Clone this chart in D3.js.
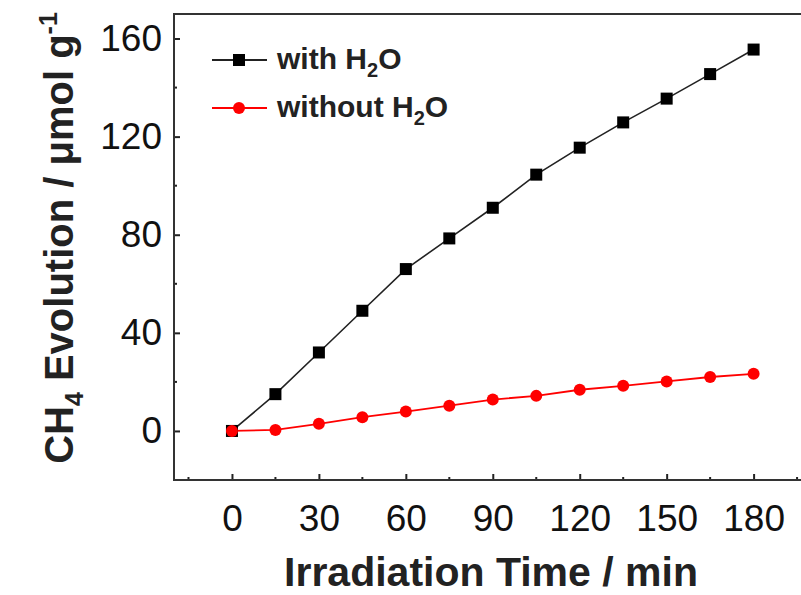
<!DOCTYPE html>
<html><head><meta charset="utf-8">
<script src="https://cdn.jsdelivr.net/npm/d3@7"></script>
<style>body{margin:0;background:#fff}svg{display:block}</style>
</head><body>
<svg id="c" width="801" height="595"></svg>
<script>
const times = [0,15,30,45,60,75,90,105,120,135,150,165,180];
const withH2O = [0,15,32,49,66,78.5,91,104.5,115.5,125.8,135.5,145.5,155.5];
const withoutH2O = [0,0.4,2.9,5.6,7.9,10.3,12.8,14.3,16.8,18.4,20.2,22,23.3];
const xTicks = [0,30,60,90,120,150,180];
const xMinor = [-15,15,45,75,105,135,165,195];
const yTicks = [0,40,80,120,160];
const yMinor = [20,60,100,140];

const svg = d3.select("#c");
const L=174, T=14, B=480;
const x = d3.scaleLinear().domain([-20,200]).range([L, L+220*2.898]);
const y = d3.scaleLinear().domain([-20,170]).range([B, T]);
const font = "Liberation Sans, Arial, sans-serif";

// minor ticks
svg.append("g").selectAll("line").data(xMinor).join("line")
  .attr("x1",d=>x(d)).attr("x2",d=>x(d)).attr("y1",B).attr("y2",B-3)
  .attr("stroke","#222").attr("stroke-width",2);
svg.append("g").selectAll("line").data(yMinor).join("line")
  .attr("y1",d=>y(d)).attr("y2",d=>y(d)).attr("x1",L).attr("x2",L+3)
  .attr("stroke","#222").attr("stroke-width",2);

const xa = svg.append("g").attr("transform",`translate(0,${B})`)
  .call(d3.axisBottom(x).tickValues(xTicks).tickSizeInner(-6).tickSizeOuter(0).tickPadding(25));
const ya = svg.append("g").attr("transform",`translate(${L},0)`)
  .call(d3.axisLeft(y).tickValues(yTicks).tickSizeInner(-6).tickSizeOuter(0).tickPadding(12));
[xa,ya].forEach(g=>{
  g.select(".domain").remove();
  g.selectAll("line").attr("stroke","#222").attr("stroke-width",2);
  g.selectAll("text").attr("font-family",font).attr("font-size",37).attr("fill","#111");
});
xa.selectAll("text").attr("dy","0.71em");

// frame
svg.append("rect").attr("x",L).attr("y",T).attr("width",x(200)-L).attr("height",B-T)
  .attr("fill","none").attr("stroke","#333").attr("stroke-width",2);

const line = d3.line().x((d,i)=>x(times[i])).y(d=>y(d));
svg.append("path").datum(withH2O).attr("d",line).attr("fill","none").attr("stroke","#222").attr("stroke-width",1.6);
svg.append("path").datum(withoutH2O).attr("d",line).attr("fill","none").attr("stroke","#f00").attr("stroke-width",1.8);
svg.append("g").selectAll("rect").data(withH2O).join("rect")
  .attr("x",(d,i)=>x(times[i])-6).attr("y",d=>y(d)-6).attr("width",12).attr("height",12).attr("fill","#000");
svg.append("g").selectAll("circle").data(withoutH2O).join("circle")
  .attr("cx",(d,i)=>x(times[i])).attr("cy",d=>y(d)).attr("r",6).attr("fill","#f00");

// legend
const leg = [{name:"with ", sq:true, y:60},{name:"without ", sq:false, y:108}];
leg.forEach(l=>{
  svg.append("line").attr("x1",212).attr("x2",267).attr("y1",l.y).attr("y2",l.y)
    .attr("stroke",l.sq?"#222":"#f00").attr("stroke-width",1.8);
  if(l.sq) svg.append("rect").attr("x",233).attr("y",l.y-6).attr("width",12).attr("height",12).attr("fill","#000");
  else svg.append("circle").attr("cx",239).attr("cy",l.y).attr("r",6).attr("fill","#f00");
  const t = svg.append("text").attr("x",277).attr("y",l.y+9).attr("font-family",font)
    .attr("font-size",30).attr("font-weight","bold").attr("fill","#222");
  t.append("tspan").text(l.name+"H");
  t.append("tspan").attr("font-size",20).attr("dy",8).text("2");
  t.append("tspan").attr("dy",-8).text("O");
});

// axis titles
svg.append("text").attr("x",491).attr("y",586).attr("text-anchor","middle")
  .attr("font-family",font).attr("font-size",41).attr("font-weight","bold").attr("fill","#222")
  .text("Irradiation Time / min");
const yt = svg.append("text").attr("transform","translate(73,238) rotate(-90)").attr("text-anchor","middle")
  .attr("font-family",font).attr("font-size",40).attr("font-weight","bold").attr("fill","#222");
yt.append("tspan").text("CH");
yt.append("tspan").attr("font-size",25).attr("dy",10).text("4");
yt.append("tspan").attr("dy",-10).text(" Evolution / μmol g");
yt.append("tspan").attr("font-size",25).attr("dy",-16).text("-1");
</script>
</body></html>
